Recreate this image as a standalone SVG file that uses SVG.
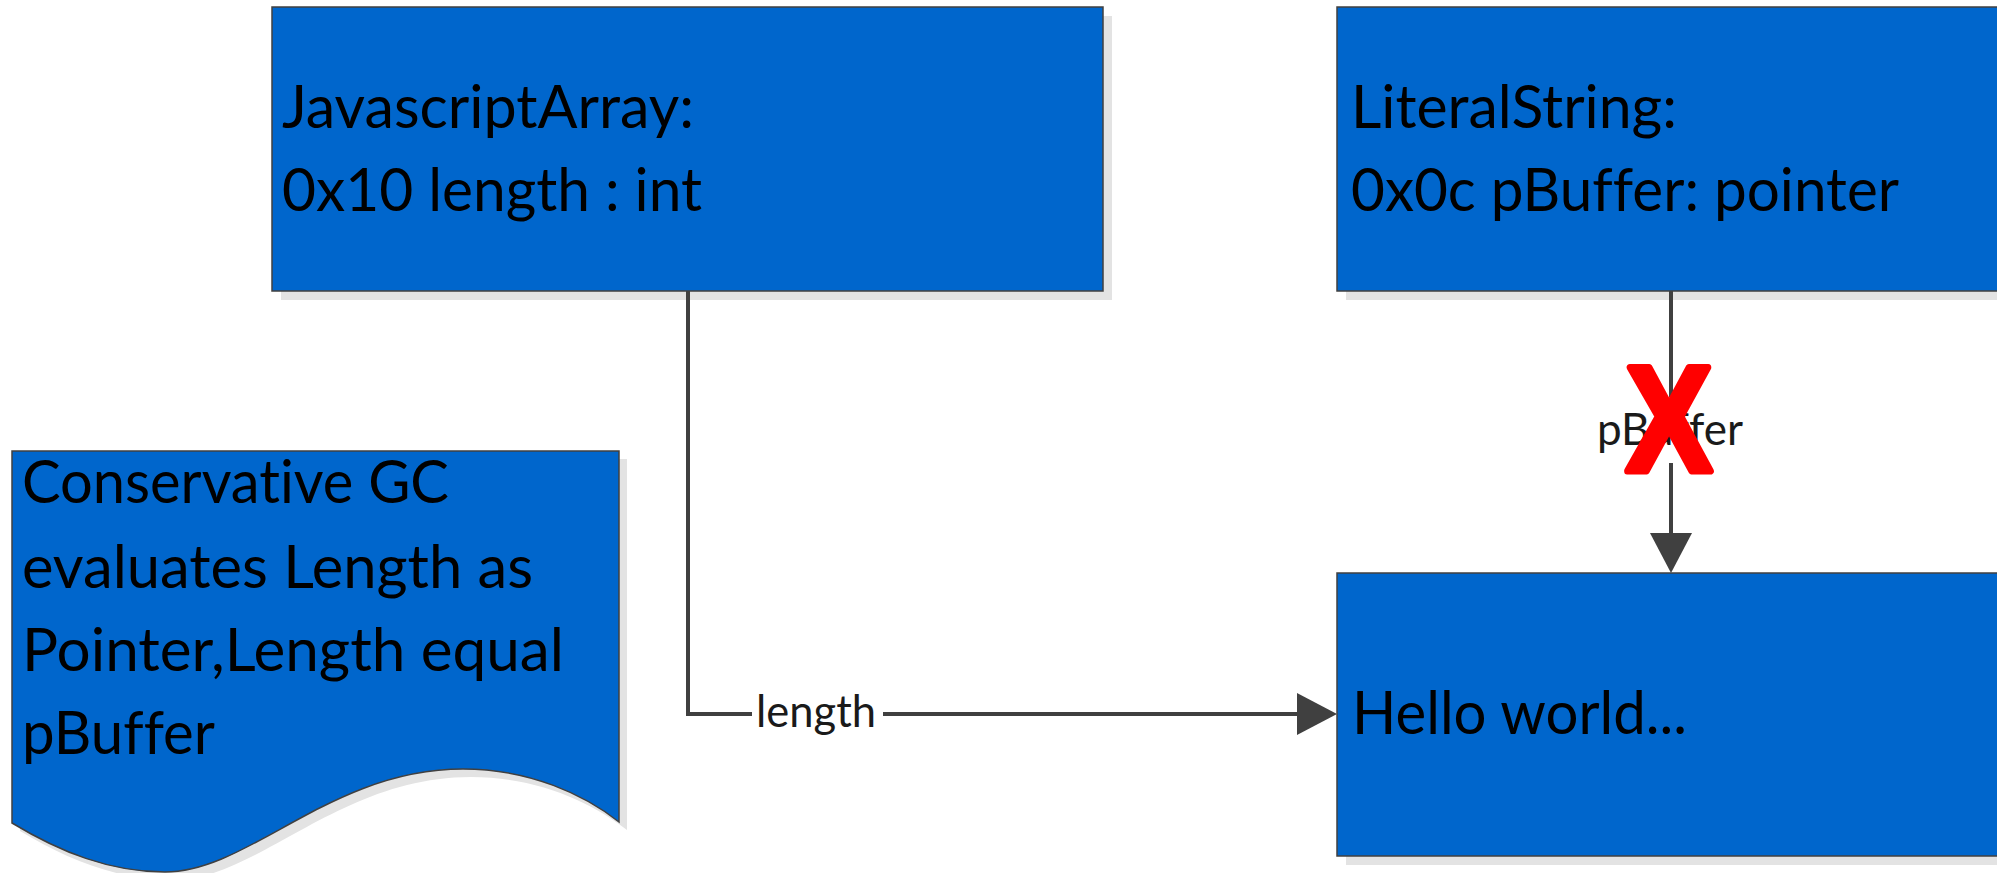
<svg xmlns="http://www.w3.org/2000/svg" width="1997" height="873" viewBox="0 0 1997 873">
  <style>
    .shadow { fill: #e3e3e3; stroke: none; }
    .node { fill: #0066cc; stroke: #404040; stroke-width: 1.5; }
    .txt { font-family: Lato, "Open Sans", sans-serif; font-size: 60px; fill: #000000; font-variant-ligatures: none; }
    .lbl { font-family: Lato, "Open Sans", sans-serif; font-size: 44px; fill: #1a1a1a; text-anchor: middle; font-variant-ligatures: none; }
    .lblbg { fill: #ffffff; stroke: none; }
    .wire { fill: none; stroke: #404040; stroke-width: 4; }
    .cross { font-family: "Liberation Sans", Arial, sans-serif; font-weight: bold; font-size: 150px; fill: #ff0000; stroke: #ff0000; stroke-width: 7; stroke-linejoin: round; text-anchor: middle; }
  </style>
  <defs>
    <marker id="arrow" markerUnits="userSpaceOnUse" markerWidth="42" markerHeight="44" refX="0" refY="21" orient="auto" overflow="visible">
      <path d="M0,0 L40,21 L0,42 z" fill="#404040"/>
    </marker>
  </defs>

  <rect width="1997" height="873" fill="#ffffff"/>

  <!-- JavascriptArray object -->
  <g id="javascript-array">
    <rect class="shadow" x="281" y="16" width="831" height="284"/>
    <rect class="node" x="272" y="7" width="831" height="284"/>
    <text class="txt" x="282" y="128" textLength="412" lengthAdjust="spacingAndGlyphs">JavascriptArray:</text>
    <text class="txt" x="282" y="211" textLength="420" lengthAdjust="spacingAndGlyphs">0x10 length : int</text>
  </g>

  <!-- LiteralString object -->
  <g id="literal-string">
    <rect class="shadow" x="1346" y="16" width="670" height="284"/>
    <rect class="node" x="1337" y="7" width="670" height="284"/>
    <text class="txt" x="1351" y="128" textLength="326" lengthAdjust="spacingAndGlyphs">LiteralString:</text>
    <text class="txt" x="1351" y="211" textLength="548" lengthAdjust="spacingAndGlyphs">0x0c pBuffer: pointer</text>
  </g>

  <!-- String buffer -->
  <g id="hello-buffer">
    <rect class="shadow" x="1346" y="582" width="670" height="283"/>
    <rect class="node" x="1337" y="573" width="670" height="283"/>
    <text class="txt" x="1352" y="734" textLength="335" lengthAdjust="spacingAndGlyphs">Hello world...</text>
  </g>

  <!-- Note (document shape) -->
  <g id="gc-note">
    <path class="shadow" transform="translate(8,8)" d="M12,451 H619 V822 C585,795 530,769 463,769 C330,769 250,872 165,872 C110,872 60,852 12,823 Z"/>
    <path class="node" d="M12,451 H619 V822 C585,795 530,769 463,769 C330,769 250,872 165,872 C110,872 60,852 12,823 Z"/>
    <text class="txt" x="22" y="503" textLength="427" lengthAdjust="spacingAndGlyphs">Conservative GC</text>
    <text class="txt" x="22" y="588" textLength="511" lengthAdjust="spacingAndGlyphs">evaluates Length as</text>
    <text class="txt" x="22" y="671" textLength="542" lengthAdjust="spacingAndGlyphs">Pointer,Length equal</text>
    <text class="txt" x="22" y="754" textLength="193" lengthAdjust="spacingAndGlyphs">pBuffer</text>
  </g>

  <!-- Connectors -->
  <g id="connectors">
    <path class="wire" d="M688,291 V714 H1297" marker-end="url(#arrow)"/>
    <rect class="lblbg" x="752" y="690" width="131" height="48"/>
    <text class="lbl" x="816" y="727" textLength="120" lengthAdjust="spacingAndGlyphs">length</text>

    <path class="wire" d="M1671,291 V533" marker-end="url(#arrow)"/>
    <rect class="lblbg" x="1594" y="397" width="152" height="66"/>
    <text class="lbl" x="1670" y="445" textLength="146" lengthAdjust="spacingAndGlyphs">pBuffer</text>
    <!-- strike-through mark on the pBuffer reference -->
    <text class="cross" transform="translate(1669,471) scale(0.86,1)" x="0" y="0">X</text>
  </g>
</svg>
